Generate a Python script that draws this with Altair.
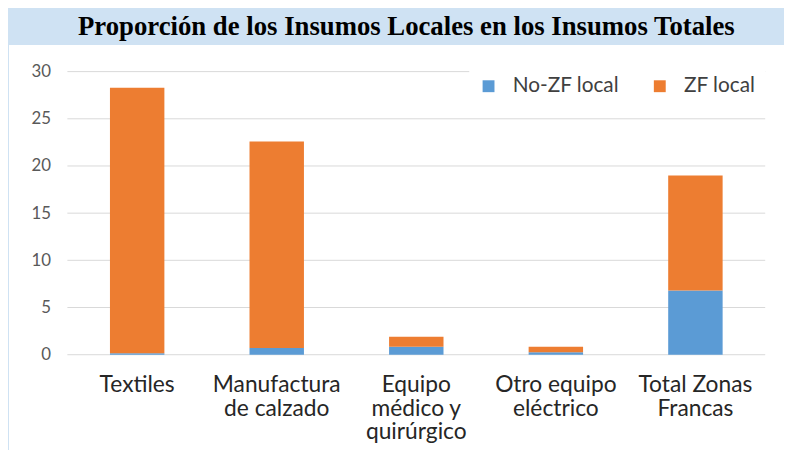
import altair as alt
import pandas as pd

categories = ["Textiles", "Manufactura de calzado", "Equipo médico y quirúrgico",
              "Otro equipo eléctrico", "Total Zonas Francas"]
label_lines = ["Textiles", "Manufactura|de calzado", "Equipo|médico y|quirúrgico",
               "Otro equipo|eléctrico", "Total Zonas|Francas"]
series = ["No-ZF local", "ZF local"]
no_zf = [0.15, 0.7, 0.85, 0.25, 6.8]
zf = [28.15, 21.9, 1.05, 0.6, 12.2]
y_ticks = [0, 5, 10, 15, 20, 25, 30]
colors = ["#5b9bd5", "#ed7d31"]

rows = []
for i, c in enumerate(categories):
    rows.append({"cat": c, "serie": series[0], "val": no_zf[i], "ord": 0})
    rows.append({"cat": c, "serie": series[1], "val": zf[i], "ord": 1})
df = pd.DataFrame(rows)
grid_df = pd.DataFrame({"v": y_ticks})

label_map = "{" + ",".join(f"'{c}': split('{l}', '|')" for c, l in zip(categories, label_lines)) + "}"

W, H = 705, 286
PAD_L, PAD_T = 60, 62
TOTAL_W, TOTAL_H = 784, 442

panel = alt.Chart(pd.DataFrame({"a": [0]})).mark_rect(color="white").encode(
    x=alt.value(1 - PAD_L), x2=alt.value(TOTAL_W - PAD_L + 5),
    y=alt.value(35 - PAD_T), y2=alt.value(TOTAL_H - PAD_T + 5),
)

yscale = alt.Scale(domain=[0, 30], nice=False)
yaxis = alt.Axis(title=None, values=y_ticks, labelFont="Lato",
                 labelFontSize=17, labelColor="#595959",
                 labelPadding=17, ticks=False, domain=False,
                 grid=False, zindex=1)

grid = alt.Chart(grid_df).mark_rule(color="#d9d9d9", strokeWidth=1).encode(
    y=alt.Y("v:Q", scale=yscale, axis=yaxis)
)

bars = alt.Chart(df).mark_bar().encode(
    x=alt.X("cat:N", sort=categories,
            scale=alt.Scale(paddingInner=0.61, paddingOuter=0.305),
            axis=alt.Axis(title=None, labelExpr=f"{label_map}[datum.label]",
                          labelAngle=0, labelFont="Lato", labelFontSize=23,
                          labelColor="#262626", labelLineHeight=24,
                          labelPadding=19, labelLimit=0, ticks=False,
                          domain=False, grid=False, zindex=1,
                          labelBaseline="top")),
    y=alt.Y("val:Q", stack="zero", scale=yscale, axis=yaxis),
    color=alt.Color("serie:N", sort=series,
                    scale=alt.Scale(domain=series, range=colors),
                    legend=alt.Legend(title=None, orient="none", direction="horizontal",
                                      legendX=406, legendY=-5, fillColor="white",
                                      padding=9, symbolType="square", symbolSize=144,
                                      symbolStrokeWidth=0, labelFont="Lato",
                                      labelFontSize=21, labelColor="#404040",
                                      labelOffset=14, columnPadding=30)),
    order=alt.Order("ord:Q"),
)

chart = alt.layer(panel, grid, bars).properties(
    width=W, height=H,
    title=alt.Title("Proporción de los Insumos Locales en los Insumos Totales",
                    font="Liberation Serif", fontSize=27, fontWeight="bold",
                    color="black", anchor="middle", dx=-10),
    background="#cfe2f3",
    padding={"left": PAD_L, "top": PAD_T, "right": TOTAL_W - PAD_L - W,
             "bottom": TOTAL_H - PAD_T - H},
    autosize=alt.AutoSizeParams(type="none"),
).configure_view(stroke=None)

chart.save("out.html", embed_options={"renderer": "svg", "actions": False})
